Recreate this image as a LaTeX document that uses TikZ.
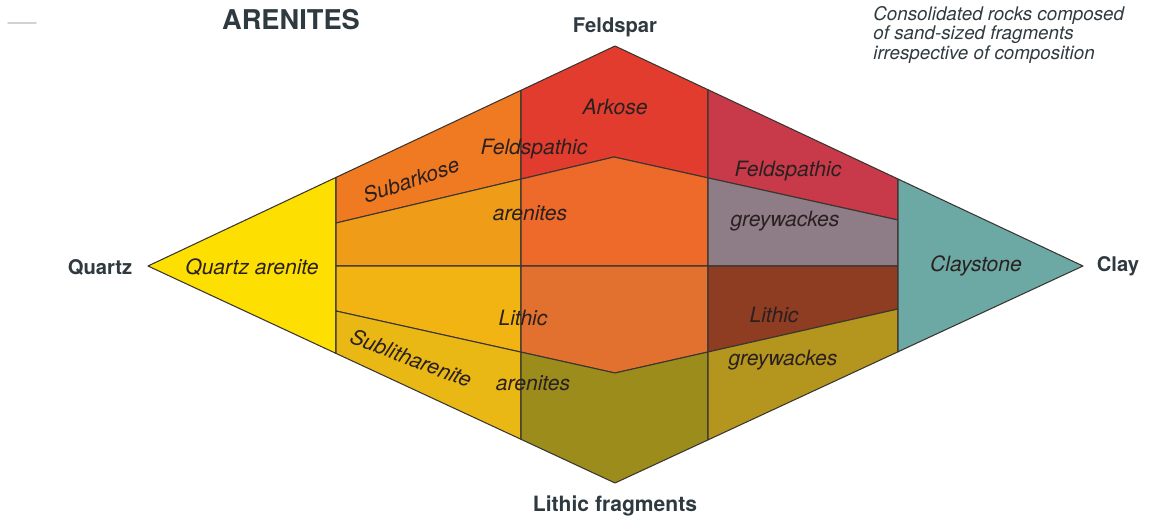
\documentclass[tikz,border=0pt]{standalone}
\usepackage{fontspec}
\setmainfont{TeX Gyre Heros}
\definecolor{edgec}{HTML}{3A3530}
\definecolor{labc}{HTML}{2F3A40}
\definecolor{fieldc}{HTML}{2A2020}
\definecolor{cQuartz}{HTML}{FDDF02}
\definecolor{cSubark}{HTML}{F07A22}
\definecolor{cArkose}{HTML}{E23C2E}
\definecolor{cFgTop}{HTML}{C83A4A}
\definecolor{cFaLeft}{HTML}{EF9C18}
\definecolor{cFaMid}{HTML}{EE6A2A}
\definecolor{cFgLow}{HTML}{8E7C86}
\definecolor{cLaLeft}{HTML}{F2B412}
\definecolor{cLaMid}{HTML}{E2702E}
\definecolor{cLgTop}{HTML}{8E3C22}
\definecolor{cSublit}{HTML}{EAB814}
\definecolor{cBottom}{HTML}{9C8C1C}
\definecolor{cLgLow}{HTML}{B4961E}
\definecolor{cClay}{HTML}{6CA8A4}
\tikzset{
  region/.style={draw=edgec, line width=0.6pt, line join=round},
  corner/.style={font=\bfseries\fontsize{11.5}{13}\selectfont, text=labc, inner sep=0pt},
  field/.style={font=\itshape\fontsize{12}{14}\selectfont, text=fieldc, inner sep=0pt},
}
\begin{document}
\begin{tikzpicture}[x=0.02cm,y=-0.02cm]
\useasboundingbox (0,0) rectangle (1150,521);
% main vertices
\coordinate (Q) at (148,266);
\coordinate (F) at (615,46);
\coordinate (C) at (1083,266);
\coordinate (L) at (615,483);
% points on the outline
\coordinate (qt) at (336,177.4);
\coordinate (qb) at (336,353.4);
\coordinate (at) at (521,90.3);
\coordinate (ab) at (521,439.3);
\coordinate (bt) at (708,89.7);
\coordinate (bb) at (708,439.9);
\coordinate (ct) at (898,179);
\coordinate (cb) at (898,351.8);
% upper chevron
\coordinate (U1) at (336,223);
\coordinate (Ua) at (521,179.1);
\coordinate (UP) at (614,157);
\coordinate (Ub) at (708,177.9);
\coordinate (U2) at (898,220);
% mid line
\coordinate (M1) at (336,266);
\coordinate (Ma) at (521,266);
\coordinate (Mb) at (708,266);
\coordinate (M2) at (898,266);
% lower chevron
\coordinate (D1) at (336,311);
\coordinate (Da) at (521,352.1);
\coordinate (DP) at (615,373);
\coordinate (Db) at (708,352);
\coordinate (D2) at (898,309);

% regions
\path[region, fill=cQuartz] (Q) -- (qt) -- (qb) -- cycle;
\path[region, fill=cSubark] (qt) -- (at) -- (Ua) -- (U1) -- cycle;
\path[region, fill=cArkose] (at) -- (F) -- (bt) -- (Ub) -- (UP) -- (Ua) -- cycle;
\path[region, fill=cFgTop] (bt) -- (ct) -- (U2) -- (Ub) -- cycle;
\path[region, fill=cFaLeft] (U1) -- (Ua) -- (Ma) -- (M1) -- cycle;
\path[region, fill=cFaMid] (Ua) -- (UP) -- (Ub) -- (Mb) -- (Ma) -- cycle;
\path[region, fill=cFgLow] (Ub) -- (U2) -- (M2) -- (Mb) -- cycle;
\path[region, fill=cLaLeft] (M1) -- (Ma) -- (Da) -- (D1) -- cycle;
\path[region, fill=cLaMid] (Ma) -- (Mb) -- (Db) -- (DP) -- (Da) -- cycle;
\path[region, fill=cLgTop] (Mb) -- (M2) -- (D2) -- (Db) -- cycle;
\path[region, fill=cSublit] (D1) -- (Da) -- (ab) -- (qb) -- cycle;
\path[region, fill=cBottom] (Da) -- (DP) -- (Db) -- (bb) -- (L) -- (ab) -- cycle;
\path[region, fill=cLgLow] (Db) -- (D2) -- (cb) -- (bb) -- cycle;
\path[region, fill=cClay] (ct) -- (C) -- (cb) -- cycle;

% faint mark at top left
\draw[gray!35, line width=0.8pt, line cap=round] (8,23) -- (36,23);

% titles and corner labels
\node[font=\bfseries\fontsize{15.5}{17}\selectfont, text=labc, inner sep=0pt] (title) at (291,20) {ARENITES};
\node[font=\itshape\fontsize{10.7}{9.8}\selectfont, text=labc, align=left, anchor=north west, inner sep=0pt] (note) at (873,6)
  {Consolidated rocks composed\\of sand-sized fragments\\irrespective of composition};
\node[corner] (feldspar) at (615,27) {Feldspar};
\node[corner] (quartz) at (100,267) {Quartz};
\node[corner] (clay) at (1118,266) {Clay};
\node[corner, font=\bfseries\fontsize{12}{14}\selectfont] (lithfrag) at (615,506) {Lithic fragments};

% field labels
\node[field] (qa) at (252,267) {Quartz arenite};
\node[field] (arkose) at (615,107) {Arkose};
\node[field, rotate=19] (subark) at (411,180) {Subarkose};
\node[field] (feld1) at (534,149) {Feldspathic};
\node[field] (aren1) at (530,213) {arenites};
\node[field] (lith1) at (523,318) {Lithic};
\node[field, rotate=-21] (sublit) at (411,358) {Sublitharenite};
\node[field] (aren2) at (533,383) {arenites};
\node[field] (feld2) at (788,171) {Feldspathic};
\node[field] (grey1) at (785,221) {greywackes};
\node[field] (lith2) at (774,315) {Lithic};
\node[field] (grey2) at (783,360) {greywackes};
\node[field] (clayst) at (976,266) {Claystone};
\end{tikzpicture}
\end{document}
